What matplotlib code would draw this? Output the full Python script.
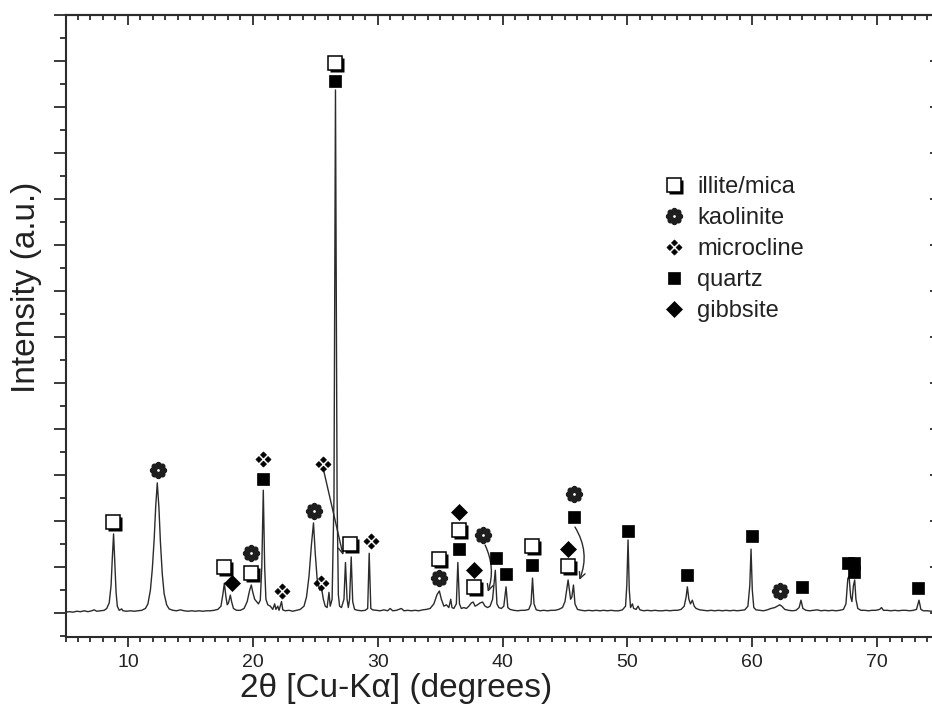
import matplotlib
matplotlib.use('Agg')
import matplotlib.pyplot as plt
from matplotlib.path import Path
from matplotlib.markers import MarkerStyle
from matplotlib.legend_handler import HandlerTuple
import matplotlib.ticker as mt

plt.rcParams['font.family'] = ['Liberation Sans', 'DejaVu Sans']
plt.rcParams['mathtext.fontset'] = 'dejavusans'

# ---------------- data ----------------
two_theta = [5.0, 5.3, 5.6, 5.9, 6.2, 6.5, 6.8, 7.1, 7.3, 7.5, 7.8, 8.1, 8.3, 8.5, 8.65, 8.75,
             8.85, 8.95, 9.05, 9.15, 9.3, 9.5, 9.6, 9.9, 10.2, 10.5, 10.8, 11.1, 11.4, 11.6, 11.8,
             11.95, 12.1, 12.22, 12.35, 12.48, 12.6, 12.75, 12.9, 13.1, 13.3, 13.6, 13.9, 14.2,
             14.5, 14.8, 15.1, 15.4, 15.7, 16.0, 16.3, 16.6, 16.9, 17.2, 17.45, 17.6, 17.72, 17.85,
             17.95, 18.05, 18.2, 18.3, 18.45, 18.7, 19.0, 19.3, 19.55, 19.75, 19.88, 20.0, 20.15,
             20.3, 20.45, 20.6, 20.72, 20.84, 20.95, 21.05, 21.2, 21.4, 21.6, 21.75, 21.85, 22.0,
             22.1, 22.3, 22.4, 22.6, 22.9, 23.2, 23.5, 23.8, 24.1, 24.3, 24.5, 24.7, 24.86, 25.0,
             25.15, 25.35, 25.5, 25.65, 25.8, 25.95, 26.1, 26.2, 26.35, 26.5, 26.62, 26.75, 26.85,
             26.95, 27.1, 27.3, 27.42, 27.55, 27.65, 27.75, 27.88, 28.0, 28.15, 28.4, 28.7, 29.0,
             29.2, 29.32, 29.45, 29.6, 29.9, 30.2, 30.5, 30.8, 31.0, 31.2, 31.5, 31.9, 32.1, 32.4,
             32.7, 33.0, 33.3, 33.6, 33.9, 34.2, 34.5, 34.75, 34.94, 35.1, 35.3, 35.5, 35.7, 35.85,
             35.95, 36.1, 36.3, 36.42, 36.55, 36.7, 36.9, 37.1, 37.3, 37.5, 37.65, 37.8, 38.0, 38.2,
             38.4, 38.6, 38.8, 39.0, 39.2, 39.42, 39.55, 39.7, 39.9, 40.1, 40.28, 40.42, 40.6, 40.9,
             41.2, 41.5, 41.8, 42.1, 42.28, 42.4, 42.52, 42.7, 43.0, 43.3, 43.6, 43.9, 44.2, 44.5,
             44.8, 45.0, 45.25, 45.45, 45.55, 45.68, 45.8, 46.0, 46.3, 46.6, 46.9, 47.2, 47.5, 47.8,
             48.1, 48.4, 48.7, 49.0, 49.3, 49.6, 49.85, 49.95, 50.05, 50.15, 50.25, 50.4, 50.5,
             50.7, 50.85, 51.0, 51.3, 51.6, 51.9, 52.2, 52.5, 52.8, 53.1, 53.4, 53.7, 54.0, 54.3,
             54.55, 54.7, 54.8, 54.92, 55.05, 55.2, 55.35, 55.5, 55.8, 56.1, 56.4, 56.7, 57.0, 57.3,
             57.6, 57.9, 58.2, 58.5, 58.8, 59.1, 59.4, 59.65, 59.8, 59.9, 60.0, 60.12, 60.3, 60.6,
             60.9, 61.2, 61.5, 61.8, 62.0, 62.2, 62.4, 62.6, 62.9, 63.2, 63.5, 63.75, 63.9, 64.05,
             64.3, 64.6, 64.9, 65.2, 65.5, 65.8, 66.1, 66.4, 66.7, 67.0, 67.3, 67.5, 67.65, 67.75,
             67.88, 67.98, 68.1, 68.2, 68.3, 68.45, 68.7, 69.0, 69.3, 69.6, 69.9, 70.2, 70.35, 70.5,
             70.8, 71.1, 71.4, 71.7, 72.0, 72.3, 72.6, 72.9, 73.15, 73.35, 73.5, 73.7, 74.0, 74.3,
             74.6, 75.0]
intensity = [0.02, 0.03, 0.02, 0.04, 0.03, 0.05, 0.03, 0.05, 0.07, 0.04, 0.05, 0.06, 0.1, 0.22,
             0.6, 1.2, 1.72, 1.1, 0.45, 0.15, 0.06, 0.09, 0.05, 0.04, 0.05, 0.04, 0.05, 0.06, 0.1,
             0.2, 0.5, 0.95, 1.6, 2.3, 2.83, 2.3, 1.55, 0.85, 0.42, 0.18, 0.09, 0.06, 0.05, 0.07,
             0.05, 0.04, 0.05, 0.04, 0.05, 0.04, 0.05, 0.05, 0.06, 0.08, 0.15, 0.4, 0.65, 0.35,
             0.18, 0.22, 0.39, 0.25, 0.1, 0.06, 0.06, 0.1, 0.25, 0.5, 0.61, 0.45, 0.3, 0.25, 0.2,
             0.28, 1.0, 2.67, 1.0, 0.3, 0.18, 0.15, 0.08, 0.2, 0.08, 0.15, 0.06, 0.25, 0.07, 0.05,
             0.06, 0.04, 0.06, 0.08, 0.15, 0.35, 0.8, 1.5, 1.96, 1.3, 0.75, 0.5, 0.55, 0.3, 0.15,
             0.12, 0.45, 0.15, 0.3, 2.5, 11.37, 2.5, 0.4, 0.15, 0.12, 0.3, 1.1, 0.3, 0.12, 0.3,
             1.22, 0.25, 0.08, 0.06, 0.05, 0.06, 0.1, 1.3, 0.1, 0.07, 0.06, 0.05, 0.07, 0.05, 0.1,
             0.05, 0.06, 0.1, 0.05, 0.06, 0.05, 0.06, 0.05, 0.07, 0.08, 0.1, 0.2, 0.4, 0.48, 0.3,
             0.15, 0.18, 0.12, 0.3, 0.12, 0.1, 0.2, 1.1, 0.2, 0.1, 0.12, 0.1, 0.15, 0.22, 0.24,
             0.15, 0.18, 0.22, 0.24, 0.15, 0.12, 0.15, 0.3, 0.93, 0.2, 0.12, 0.1, 0.15, 0.57, 0.12,
             0.08, 0.06, 0.05, 0.06, 0.06, 0.08, 0.2, 0.76, 0.2, 0.07, 0.05, 0.06, 0.05, 0.06, 0.06,
             0.08, 0.12, 0.25, 0.72, 0.3, 0.35, 0.61, 0.2, 0.08, 0.06, 0.05, 0.06, 0.05, 0.06, 0.05,
             0.06, 0.05, 0.06, 0.05, 0.05, 0.07, 0.15, 0.6, 1.59, 0.5, 0.12, 0.2, 0.1, 0.08, 0.15,
             0.07, 0.05, 0.06, 0.05, 0.06, 0.05, 0.05, 0.06, 0.05, 0.06, 0.06, 0.08, 0.15, 0.35,
             0.57, 0.3, 0.2, 0.28, 0.15, 0.1, 0.07, 0.06, 0.05, 0.06, 0.05, 0.06, 0.05, 0.06, 0.05,
             0.06, 0.05, 0.06, 0.07, 0.15, 0.6, 1.39, 0.5, 0.12, 0.07, 0.06, 0.05, 0.07, 0.1, 0.12,
             0.15, 0.18, 0.14, 0.08, 0.06, 0.05, 0.06, 0.12, 0.28, 0.1, 0.06, 0.05, 0.06, 0.07, 0.05,
             0.06, 0.05, 0.06, 0.05, 0.06, 0.08, 0.2, 0.75, 0.8, 0.35, 0.25, 0.6, 0.72, 0.3, 0.1,
             0.06, 0.06, 0.05, 0.06, 0.06, 0.08, 0.12, 0.06, 0.06, 0.05, 0.06, 0.05, 0.06, 0.06,
             0.05, 0.06, 0.08, 0.28, 0.08, 0.05, 0.05, 0.04, 0.05, 0.04]

# phase marker positions (2theta, height)
illite_x = [8.82, 17.71, 19.87, 26.60, 27.79, 34.92, 36.52, 37.72, 42.37, 45.25]
illite_y = [1.98, 1.00, 0.87, 11.96, 1.50, 1.17, 1.80, 0.57, 1.46, 1.02]
kaolinite_x = [12.43, 19.87, 24.91, 34.92, 38.44, 45.73, 62.22]
kaolinite_y = [3.11, 1.30, 2.22, 0.76, 1.70, 2.59, 0.48]
microcline_x = [20.84, 22.36, 25.48, 25.64, 29.48]
microcline_y = [3.35, 0.48, 0.65, 3.24, 1.57]
quartz_x = [20.84, 26.60, 36.52, 39.48, 40.28, 42.37, 45.73, 50.04, 54.77, 59.98, 63.98,
            67.67, 68.15, 68.15, 73.27]
quartz_y = [2.91, 11.57, 1.39, 1.20, 0.85, 1.04, 2.09, 1.78, 0.83, 1.67, 0.57,
            1.09, 1.09, 0.89, 0.54]
gibbsite_x = [18.34, 36.52, 37.72, 45.25]
gibbsite_y = [0.65, 2.20, 0.93, 1.39]

# arrows: (start x, start y, end x, end y, curvature)
arrow_start_x = [25.70, 38.60, 45.80]
arrow_start_y = [3.07, 1.48, 1.87]
arrow_end_x = [27.23, 38.82, 46.15]
arrow_end_y = [1.26, 0.46, 0.72]
arrow_rad = [0.0, -0.2, -0.25]

legend_labels = ['illite/mica', 'kaolinite', 'microcline', 'quartz', 'gibbsite']

# ---------------- figure ----------------
W, H = 932, 717
fig = plt.figure(figsize=(W / 100, H / 100), dpi=100)
left_px, right_px, top_px, bot_px = 65.5, 939.6, 15, 637
ax = fig.add_axes([left_px / W, 1 - bot_px / H, (right_px - left_px) / W, (bot_px - top_px) / H])

ink = '#2b2b2b'
ax.plot(two_theta, intensity, color=ink, lw=1.0, zorder=2)

ax.set_xlim(5, 75)
ax.set_ylim(-0.52, 13.0)

# marker styles
ms_sq = 10.0
d = 0.14
shadow_path = Path([(-0.5 + d, -0.5 - d), (0.5 + d, -0.5 - d), (0.5 + d, 0.5 - d),
                    (-0.5 + d, 0.5 - d), (-0.5 + d, -0.5 - d)], closed=True)
shadow_marker = MarkerStyle(shadow_path)
ms_shadow = ms_sq * (0.5 + d) / 0.5

# four small diamonds (microcline symbol)
verts, codes = [], []
r_c, r_d = 0.3, 0.2
for cx, cy in [(0, r_c), (r_c, 0), (0, -r_c), (-r_c, 0)]:
    verts += [(cx, cy + r_d), (cx + r_d, cy), (cx, cy - r_d), (cx - r_d, cy), (cx, cy + r_d)]
    codes += [Path.MOVETO, Path.LINETO, Path.LINETO, Path.LINETO, Path.CLOSEPOLY]
micro_marker = MarkerStyle(Path(verts, codes))

h_sh, = ax.plot(illite_x, illite_y, ls='none', marker=shadow_marker, ms=ms_shadow,
                mfc='black', mec='none', zorder=4)
h_il, = ax.plot(illite_x, illite_y, ls='none', marker='s', ms=ms_sq,
                mfc='white', mec='black', mew=1.1, zorder=5)
h_ka, = ax.plot(kaolinite_x, kaolinite_y, ls='none', marker=r'$❁$', ms=11.5,
                color='#1e1e1e', zorder=5)
h_mi, = ax.plot(microcline_x, microcline_y, ls='none', marker=micro_marker, ms=11,
                mfc='black', mec='black', mew=0.4, zorder=5)
h_qz, = ax.plot(quartz_x, quartz_y, ls='none', marker='s', ms=9,
                mfc='black', mec='black', mew=0.5, zorder=5)
h_gb, = ax.plot(gibbsite_x, gibbsite_y, ls='none', marker='D', ms=8.5,
                mfc='black', mec='black', mew=0.5, zorder=5)

for sx, sy, ex, ey, r in zip(arrow_start_x, arrow_start_y, arrow_end_x, arrow_end_y, arrow_rad):
    ax.annotate('', xy=(ex, ey), xytext=(sx, sy),
                arrowprops=dict(arrowstyle='->,head_length=0.45,head_width=0.22', color=ink,
                                lw=1.0, shrinkA=0, shrinkB=0,
                                connectionstyle=f'arc3,rad={r}'), zorder=3)

# ticks
ax.xaxis.set_major_locator(mt.MultipleLocator(10))
ax.xaxis.set_minor_locator(mt.MultipleLocator(1))
ax.yaxis.set_major_locator(mt.MultipleLocator(1))
ax.yaxis.set_minor_locator(mt.MultipleLocator(0.5))
ax.tick_params(axis='x', which='major', direction='out', length=7.5, width=1.3,
               labelsize=14, pad=5, colors=ink, labelcolor='#222222')
ax.tick_params(axis='x', which='minor', direction='out', length=3.8, width=1.3, colors=ink)
ax.tick_params(axis='y', which='major', direction='out', length=8.5, width=1.3,
               labelleft=False, colors=ink)
ax.tick_params(axis='y', which='minor', direction='out', length=4.2, width=1.3, colors=ink)
ax.set_xticks([10, 20, 30, 40, 50, 60, 70])

top = ax.secondary_xaxis('top')
top.xaxis.set_major_locator(mt.MultipleLocator(10))
top.xaxis.set_minor_locator(mt.MultipleLocator(1))
top.tick_params(axis='x', which='major', direction='in', length=7.5, width=1.3,
                labeltop=False, colors=ink)
top.tick_params(axis='x', which='minor', direction='in', length=3.8, width=1.3, colors=ink)
right = ax.secondary_yaxis('right')
right.yaxis.set_major_locator(mt.MultipleLocator(1))
right.yaxis.set_minor_locator(mt.MultipleLocator(0.5))
right.tick_params(axis='y', which='major', direction='in', length=7.5, width=1.3,
                  labelright=False, colors=ink)
right.tick_params(axis='y', which='minor', direction='in', length=3.8, width=1.3, colors=ink)

for a in (ax, top, right):
    for s in a.spines.values():
        s.set_linewidth(1.5)
        s.set_color(ink)

fig.text(396 / W, 1 - 689 / H, '2θ [Cu-Kα] (degrees)', fontsize=24, color='#222222',
         ha='center', va='center')
fig.text(27 / W, 1 - 287 / H, 'Intensity (a.u.)', fontsize=24, color='#222222',
         ha='center', va='center', rotation=90)

leg = ax.legend([(h_sh, h_il), h_ka, h_mi, h_qz, h_gb], legend_labels,
                handler_map={tuple: HandlerTuple(ndivide=1)},
                loc='upper left', bbox_to_anchor=(662 / W, 1 - 176 / H),
                bbox_transform=fig.transFigure, frameon=False, fontsize=17,
                handlelength=1.0, handletextpad=0.5, labelspacing=0.38,
                borderpad=0, borderaxespad=0, numpoints=1)
for t in leg.get_texts():
    t.set_color('#222222')

fig.savefig('out.png', dpi=100)
